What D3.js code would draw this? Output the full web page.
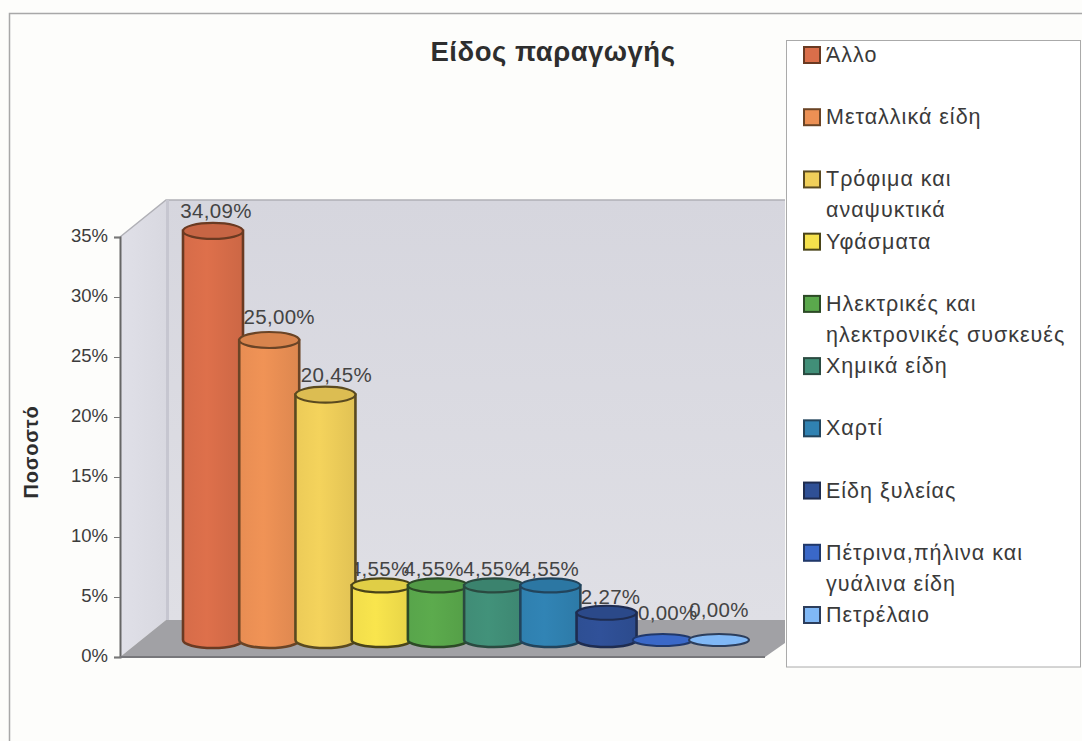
<!DOCTYPE html>
<html lang="el">
<head>
<meta charset="utf-8">
<title>Είδος παραγωγής</title>
<script src="https://cdn.jsdelivr.net/npm/d3@7"></script>
<style>
  html, body { margin: 0; padding: 0; background: #fdfdfb; }
  svg { display: block; font-family: "Liberation Sans", Arial, sans-serif; }
</style>
</head>
<body>
<svg id="chart" width="1082" height="741"></svg>
<script>
const categories = ["Άλλο", "Μεταλλικά είδη", "Τρόφιμα και αναψυκτικά", "Υφάσματα",
  "Ηλεκτρικές και ηλεκτρονικές συσκευές", "Χημικά είδη", "Χαρτί", "Είδη ξυλείας",
  "Πέτρινα,πήλινα και γυάλινα είδη", "Πετρέλαιο"];
const values = [34.09, 25.00, 20.45, 4.55, 4.55, 4.55, 4.55, 2.27, 0, 0];
const colors = ["#da6e4a", "#ec9054", "#f0cf5a", "#f5e14c", "#5aa84c",
  "#418f78", "#3082b2", "#2f5096", "#3a68c8", "#80b8f6"];
const outlines = ["#6a3a22", "#6a4426", "#5a4a20", "#4a4418", "#2c4a26",
  "#2a4a40", "#22445c", "#1e2c50", "#20386a", "#2c3e5c"];
const legendLines = [["Άλλο"], ["Μεταλλικά είδη"], ["Τρόφιμα και", "αναψυκτικά"], ["Υφάσματα"],
  ["Ηλεκτρικές και", "ηλεκτρονικές συσκευές"], ["Χημικά είδη"], ["Χαρτί"], ["Είδη ξυλείας"],
  ["Πέτρινα,πήλινα και", "γυάλινα είδη"], ["Πετρέλαιο"]];
const yTicks = [0, 5, 10, 15, 20, 25, 30, 35];
const titleText = "Είδος παραγωγής";
const yAxisTitle = "Ποσοστό";

// Hand placement of the value labels relative to the top of each cylinder
const labelNudgeX = [3, 10, 11, -2, -4, -1, -1, 4, 5, 0];
const labelNudgeY = [-13, -16, -13, -9, -9, -9, -9, -9, -20, -23];

const svg = d3.select("#chart");
const comma = v => v.toFixed(2).replace(".", ",") + "%";

// Scales: the axis stands on the front edge, the bars sit further back on the floor.
const y = d3.scaleLinear().domain([0, 35]).range([657, 237]);
const depth = { dx: 46, dy: 37 };
const barLift = 17;
const x = d3.scalePoint().domain(d3.range(categories.length)).range([213, 719]);
const rx = 30;

// Chart frame
svg.append("path").attr("d", "M9.5,741V13.5H1082").attr("fill", "none")
  .attr("stroke", "#a8a8a8").attr("stroke-width", 1.5);

// Gradients
const defs = svg.append("defs");
const wallGrad = defs.append("linearGradient").attr("id", "wall").attr("x1", 0).attr("x2", 0).attr("y1", 0).attr("y2", 1);
wallGrad.append("stop").attr("offset", 0).attr("stop-color", "#d6d6de");
wallGrad.append("stop").attr("offset", 1).attr("stop-color", "#dfdfe5");
const sideGrad = defs.append("linearGradient").attr("id", "side").attr("x1", 0).attr("x2", 1).attr("y1", 0).attr("y2", 0);
sideGrad.append("stop").attr("offset", 0).attr("stop-color", "#e0e0e8");
sideGrad.append("stop").attr("offset", 1).attr("stop-color", "#d8d8e0");

colors.forEach((c, i) => {
  const g = defs.append("linearGradient").attr("id", "bar" + i).attr("x1", 0).attr("x2", 1).attr("y1", 0).attr("y2", 0);
  g.append("stop").attr("offset", 0).attr("stop-color", d3.color(c).darker(0.05));
  g.append("stop").attr("offset", 0.4).attr("stop-color", d3.color(c).brighter(0.05));
  g.append("stop").attr("offset", 1).attr("stop-color", d3.color(c).darker(0.18));
});

// 3D walls and floor
const x0 = 120, wallRight = 785, frontRight = 765;
const y0 = y(0), yTop = y(35);
const line = d3.line();
svg.append("path").attr("fill", "url(#side)")
  .attr("d", line([[x0, yTop], [x0 + depth.dx, yTop - depth.dy], [x0 + depth.dx, y0 - depth.dy], [x0, y0]]) + "Z");
svg.append("path").attr("fill", "url(#wall)")
  .attr("d", line([[x0 + depth.dx, yTop - depth.dy], [wallRight, yTop - depth.dy], [wallRight, y0 - depth.dy], [x0 + depth.dx, y0 - depth.dy]]) + "Z");
svg.append("path").attr("fill", "none").attr("stroke", "#b0b0b6").attr("stroke-width", 1.5)
  .attr("d", line([[x0, yTop], [x0 + depth.dx, yTop - depth.dy], [wallRight, yTop - depth.dy]]));
svg.append("line").attr("x1", x0 + depth.dx + 1.5).attr("x2", x0 + depth.dx + 1.5)
  .attr("y1", yTop - depth.dy).attr("y2", y0 - depth.dy)
  .attr("stroke", "#c6c6d0").attr("stroke-width", 3);
svg.append("path").attr("fill", "#a1a1a5")
  .attr("d", line([[x0, y0], [x0 + depth.dx, y0 - depth.dy], [wallRight, y0 - depth.dy], [wallRight, y0 - 14], [frontRight, y0]]) + "Z");

// Value axis
const axis = d3.axisLeft(y).tickValues(yTicks).tickSize(6).tickPadding(6).tickFormat(d => d + "%");
const axisG = svg.append("g").attr("transform", `translate(${x0},0)`).call(axis);
axisG.select(".domain").attr("stroke", "#666").attr("stroke-width", 2);
axisG.selectAll(".tick line").attr("stroke", "#777");
axisG.selectAll(".tick text").attr("font-size", 18.5).attr("font-family", "Liberation Sans, Arial, sans-serif").attr("fill", "#3c3c3c").attr("dy", "0.22em");
svg.append("line").attr("x1", x0).attr("x2", frontRight).attr("y1", y0).attr("y2", y0)
  .attr("stroke", "#77777b").attr("stroke-width", 2);

const topY = v => y(v) - barLift;
const baseY = y(0) - barLift;

// Value labels sit behind the cylinders, so a neighbour can clip their first digit
svg.append("g").selectAll("text").data(values).join("text")
  .attr("x", (v, i) => x(i) + labelNudgeX[i])
  .attr("y", (v, i) => topY(v) + labelNudgeY[i])
  .attr("text-anchor", "middle")
  .attr("font-size", 20.5).attr("letter-spacing", 0.3).attr("fill", "#444")
  .text(comma);

// Cylinders, drawn left to right so each one overlaps the previous
const bars = svg.append("g").selectAll("g").data(values).join("g");
const radiusY = v => v === 0 ? 6 : (v < 10 ? 7 : 8);
bars.each(function (v, i) {
  const g = d3.select(this), cx = x(i), ry = radiusY(v), t = topY(v);
  if (v > 0) {
    g.append("path").attr("fill", `url(#bar${i})`).attr("stroke", outlines[i]).attr("stroke-width", 2.6)
      .attr("d", `M${cx - rx},${t}V${baseY}A${rx},${ry} 0 0 0 ${cx + rx},${baseY}V${t}Z`);
  }
  g.append("ellipse").attr("cx", cx).attr("cy", t).attr("rx", rx).attr("ry", ry)
    .attr("fill", v > 0 ? d3.color(colors[i]).darker(0.25) : colors[i])
    .attr("stroke", outlines[i]).attr("stroke-width", 2.2);
});

// Titles
svg.append("text").attr("x", 553).attr("y", 61).attr("text-anchor", "middle")
  .attr("font-size", 27.5).attr("font-weight", "bold").attr("letter-spacing", 0.5).attr("fill", "#2e2e2e")
  .text(titleText);
svg.append("text").attr("transform", "translate(38,452) rotate(-90)").attr("text-anchor", "middle")
  .attr("font-size", 20).attr("font-weight", "bold").attr("letter-spacing", 0.8).attr("fill", "#2e2e2e").text(yAxisTitle);

// Legend
svg.append("rect").attr("x", 786.5).attr("y", 40.5).attr("width", 294).attr("height", 626.5)
  .attr("fill", "#fff").attr("stroke", "#aaa");
const rowY = d3.scalePoint().domain(d3.range(categories.length)).range([55, 615]);
const rows = svg.append("g").selectAll("g").data(categories).join("g")
  .attr("transform", (d, i) => `translate(0,${rowY(i)})`);
rows.append("rect").attr("x", 804).attr("y", -8).attr("width", 16).attr("height", 16)
  .attr("fill", (d, i) => colors[i]).attr("stroke", (d, i) => outlines[i]).attr("stroke-width", 2);
rows.each(function (d, i) {
  d3.select(this).selectAll("text").data(legendLines[i]).join("text")
    .attr("x", 826).attr("y", (l, k) => 7 + k * 31)
    .attr("font-size", 21.5).attr("letter-spacing", 1).attr("fill", "#3a3a3a").text(l => l);
});
</script>
</body>
</html>
